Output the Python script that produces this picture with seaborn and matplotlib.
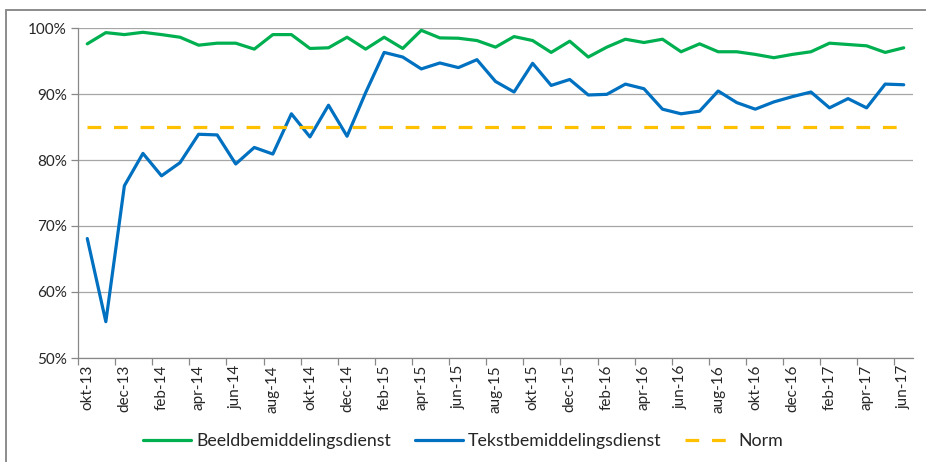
import numpy as np
import pandas as pd
import matplotlib
matplotlib.use("Agg")
import matplotlib.pyplot as plt
from matplotlib.lines import Line2D
from matplotlib.ticker import FuncFormatter
import seaborn as sns

# maanden okt-13 t/m jun-17
maand_namen = ["jan", "feb", "mrt", "apr", "mei", "jun", "jul", "aug", "sep", "okt", "nov", "dec"]
maanden = []
for jaar in range(13, 18):
    for m, naam in enumerate(maand_namen, start=1):
        if (jaar == 13 and m < 10) or (jaar == 17 and m > 6):
            continue
        maanden.append(f"{naam}-{jaar}")

beeld = [97.6, 99.3, 99.0, 99.35, 99.0, 98.6, 97.4, 97.7, 97.7, 96.8,
         99.0, 99.0, 96.9, 97.0, 98.6, 96.8, 98.6, 96.9, 99.65, 98.5,
         98.45, 98.1, 97.1, 98.7, 98.1, 96.3, 98.0, 95.6, 97.1, 98.3,
         97.8, 98.3, 96.4, 97.6, 96.4, 96.4, 96.0, 95.5, 96.0, 96.4,
         97.7, 97.5, 97.3, 96.3, 97.0]
tekst = [68.1, 55.5, 76.1, 81.0, 77.6, 79.6, 83.9, 83.8, 79.4, 81.9,
         80.9, 87.0, 83.5, 88.3, 83.6, 90.2, 96.3, 95.6, 93.8, 94.7,
         94.0, 95.2, 91.9, 90.3, 94.65, 91.3, 92.2, 89.85, 89.95, 91.5,
         90.8, 87.7, 87.0, 87.4, 90.45, 88.7, 87.7, 88.8, 89.6, 90.3,
         87.9, 89.3, 87.9, 91.5, 91.4]
norm = [85.0] * len(maanden)

df = pd.DataFrame({"maand": maanden, "Beeldbemiddelingsdienst": beeld,
                   "Tekstbemiddelingsdienst": tekst, "Norm": norm})

sns.set_style("white")
plt.rcParams["font.family"] = ["Lato", "DejaVu Sans"]

fig = plt.figure(figsize=(9.26, 4.62), dpi=100)
ax = fig.add_axes([78 / 926, 1 - 358 / 462, (913 - 78) / 926, (358 - 28) / 462])

groen, blauw, geel = "#00B050", "#0070C0", "#FFC000"
sns.lineplot(data=df, x="maand", y="Beeldbemiddelingsdienst", ax=ax, color=groen, lw=2.3, sort=False)
sns.lineplot(data=df, x="maand", y="Tekstbemiddelingsdienst", ax=ax, color=blauw, lw=2.3, sort=False)
sns.lineplot(data=df, x="maand", y="Norm", ax=ax, color=geel, lw=2.3, sort=False,
             dashes=False, linestyle=(0, (4.3, 4.0)))

ax.set_xlim(-0.5, len(maanden) - 0.5)
ax.set_ylim(50, 100)
ax.set_yticks(range(50, 101, 10))
ax.yaxis.set_major_formatter(FuncFormatter(lambda v, p: f"{v:.0f}%"))
ax.grid(axis="y", color="#A6A6A6", lw=0.9)
ax.grid(axis="x", visible=False)

pos = np.arange(0, len(maanden), 2)
ax.set_xticks(pos)
ax.set_xticklabels([maanden[i] for i in pos], rotation=90)
ax.set_xticks(np.arange(-0.5, len(maanden) - 1, 2), minor=True)
ax.tick_params(axis="x", which="major", length=0, pad=5, labelsize=11, colors="#262626")
ax.tick_params(axis="x", which="minor", length=5, width=0.9, color="#888888", direction="out", bottom=True)
ax.tick_params(axis="y", length=5, width=0.9, color="#888888", direction="out", left=True,
               labelsize=11, colors="#262626", pad=3)
ax.set_xlabel("")
ax.set_ylabel("")

for s in ["top", "right"]:
    ax.spines[s].set_visible(False)
for s in ["left", "bottom"]:
    ax.spines[s].set_color("#888888")
    ax.spines[s].set_linewidth(0.9)

# kader om de grafiek
fig.add_artist(Line2D([6 / 926, 1], [1 - 10 / 462] * 2, color="#8C8C8C", lw=1.4, transform=fig.transFigure))
fig.add_artist(Line2D([6 / 926] * 2, [0, 1 - 10 / 462], color="#8C8C8C", lw=1.4, transform=fig.transFigure))

handles = [Line2D([], [], color=groen, lw=2.3),
           Line2D([], [], color=blauw, lw=2.3),
           Line2D([], [], color=geel, lw=2.3, linestyle=(0, (4.3, 4.0)))]
fig.legend(handles, ["Beeldbemiddelingsdienst", "Tekstbemiddelingsdienst", "Norm"],
           loc="center", bbox_to_anchor=(0.5, 1 - 441 / 462), ncol=3, frameon=False,
           fontsize=12.8, handlelength=2.7, handletextpad=0.3, columnspacing=1.3,
           labelcolor="#262626")

fig.savefig("out.png", dpi=100)
